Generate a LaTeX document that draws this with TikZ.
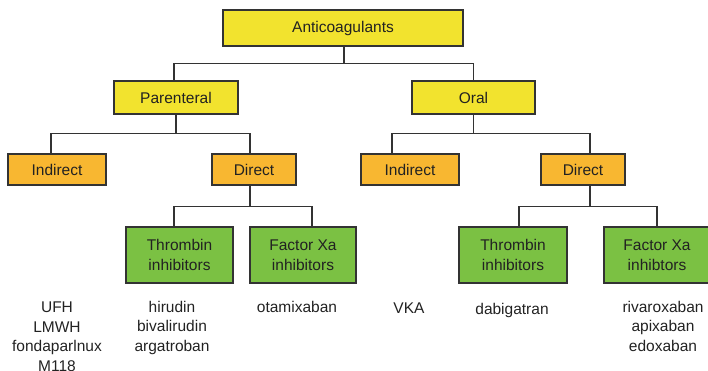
\documentclass[tikz,border=0pt]{standalone}
\usepackage{fontspec}
\setmainfont{Liberation Sans}
\definecolor{boxyellow}{HTML}{F2E32E}
\definecolor{boxorange}{HTML}{F8B731}
\definecolor{boxgreen}{HTML}{7BC143}
\definecolor{linegray}{HTML}{333333}
\definecolor{textgray}{HTML}{222222}
\begin{document}
\begin{tikzpicture}[x=1pt,y=-1pt,
  every node/.style={font=\fontsize{15.5}{19.5}\selectfont, text=textgray},
  box/.style={draw=linegray, line width=1.4pt, align=center, inner sep=0pt},
  ybox/.style={box, fill=boxyellow},
  obox/.style={box, fill=boxorange},
  gbox/.style={box, fill=boxgreen},
  conn/.style={draw=linegray, line width=1.2pt},
  drug/.style={align=center, inner sep=0pt, anchor=north}]
\useasboundingbox (0,0) rectangle (708,371);
\begin{scope}
\clip (0,0) rectangle (708,371);
\node[ybox, minimum width=240pt, minimum height=36pt] (anti) at (343,28) {Anticoagulants};
\node[ybox, minimum width=124pt, minimum height=33pt] (par) at (176,97.5) {Parenteral};
\node[ybox, minimum width=123pt, minimum height=33pt] (oral) at (473.5,97.5) {Oral};
\node[obox, minimum width=98pt, minimum height=31pt] (ind1) at (57,169.5) {Indirect};
\node[obox, minimum width=84pt, minimum height=31pt] (dir1) at (254,169.5) {Direct};
\node[obox, minimum width=98pt, minimum height=31pt] (ind2) at (410,169.5) {Indirect};
\node[obox, minimum width=84pt, minimum height=31pt] (dir2) at (583,169.5) {Direct};
\node[gbox, minimum width=107pt, minimum height=56pt] (thr1) at (179.5,255) {Thrombin\\inhibitors};
\node[gbox, minimum width=106pt, minimum height=56pt] (fxa1) at (303,255) {Factor Xa\\inhibitors};
\node[gbox, minimum width=108pt, minimum height=56pt] (thr2) at (513,255) {Thrombin\\inhibitors};
\node[gbox, minimum width=106pt, minimum height=56pt] (fxa2) at (657,255) {Factor Xa\\inhibtors};
\end{scope}
% connectors
\draw[conn] ([xshift=1pt]anti.south) -- ++(0,17) coordinate (j0);
\draw[conn] ([xshift=-2pt]par.north) |- (j0) -| (oral.north);
\draw[conn] (par.south) -- ++(0,19) coordinate (j1);
\draw[conn] ([xshift=-6pt]ind1.north) |- (j1) -| ([xshift=-4pt]dir1.north);
\draw[conn] (oral.south) -- ++(0,19) coordinate (j2);
\draw[conn] ([xshift=-18pt]ind2.north) |- (j2) -| ([xshift=7pt]dir2.north);
\draw[conn] ([xshift=-4pt]dir1.south) -- ++(0,21) coordinate (j3);
\draw[conn] ([xshift=-5.5pt]thr1.north) |- (j3) -| ([xshift=9pt]fxa1.north);
\draw[conn] ([xshift=7pt]dir2.south) -- ++(0,21) coordinate (j4);
\draw[conn] ([xshift=6pt]thr2.north) |- (j4) -| (fxa2.north);
% drug lists
\node[drug] (l1) at (57,302) {UFH\\LMWH\\fondaparlnux\\M118};
\node[drug] (l2) at (172,300.7) {hirudin\\bivalirudin\\argatroban};
\node[drug] (l3) at (297,300.7) {otamixaban};
\node[drug] (l4) at (409,303) {VKA};
\node[drug] (l5) at (512,302.7) {dabigatran};
\node[drug] (l6) at (663,300.7) {rivaroxaban\\apixaban\\edoxaban};
\end{tikzpicture}
\end{document}
